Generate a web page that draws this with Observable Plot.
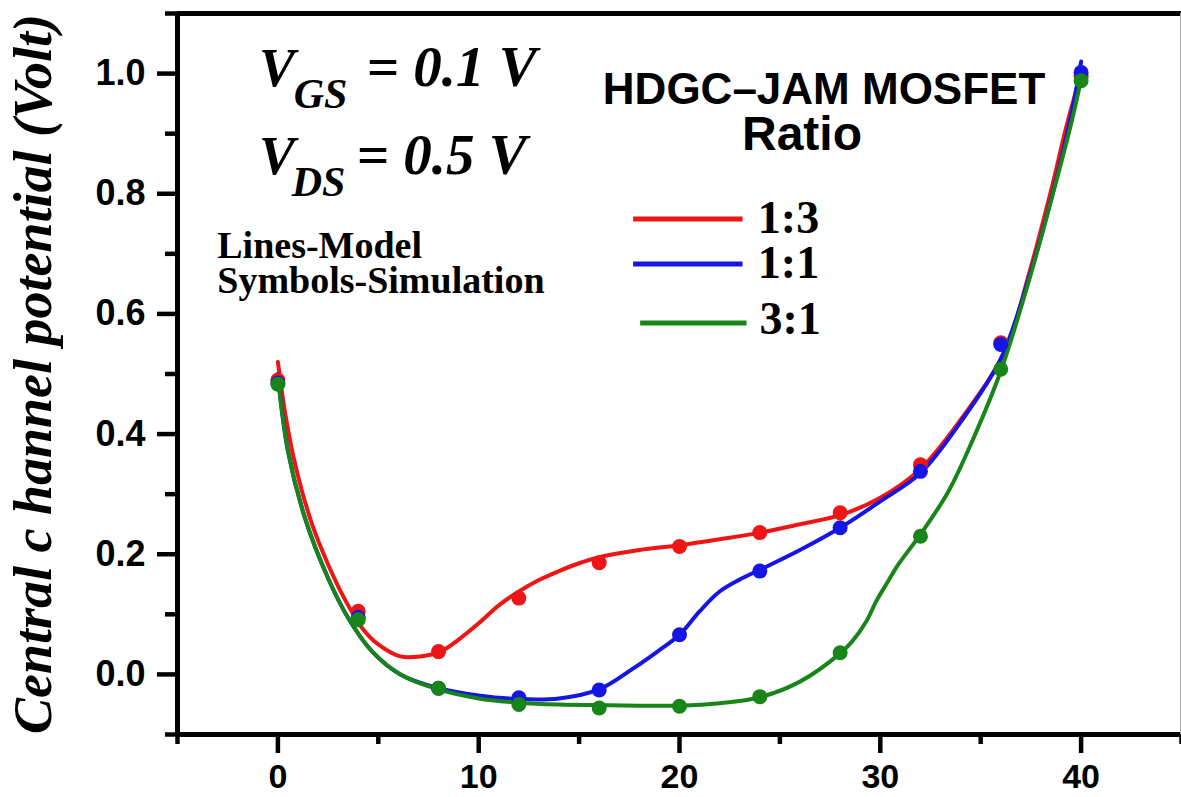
<!DOCTYPE html>
<html><head><meta charset="utf-8">
<script src="https://cdn.jsdelivr.net/npm/d3@7"></script>
<script src="https://cdn.jsdelivr.net/npm/@observablehq/plot@0.6"></script>
<style>body{margin:0;background:#fff;overflow:hidden} svg{display:block}</style>
</head><body><div id="chart"></div>
<script>
// ---- data ----
const seriesNames = ["1:3", "1:1", "3:1"];

// simulation symbols
const simX   = [0, 4, 8, 12, 16, 20, 24, 28, 32, 36, 40];
const sim13  = [0.49, 0.105, 0.038, 0.127, 0.186, 0.213, 0.236, 0.269, 0.349, 0.552, 0.995];
const sim11  = [0.485, 0.095, -0.023, -0.039, -0.026, 0.066, 0.172, 0.244, 0.338, 0.549, 1.002];
const sim31  = [0.483, 0.091, -0.023, -0.05, -0.056, -0.053, -0.037, 0.036, 0.23, 0.508, 0.988];

// model lines
const model13X = [0, 0.4, 0.9, 1.7, 2.5, 3.3, 4.2, 5, 6.1, 7.1, 8.1, 9, 10, 11, 12, 13, 14, 15, 16, 18, 20, 22, 24, 26, 28, 30, 32, 34.2, 36.2, 37.4, 38.5, 39.3, 40];
const model13Y = [0.52, 0.427, 0.344, 0.25, 0.183, 0.127, 0.077, 0.05, 0.03, 0.03, 0.038, 0.058, 0.085, 0.115, 0.138, 0.157, 0.172, 0.185, 0.195, 0.207, 0.215, 0.225, 0.236, 0.25, 0.265, 0.294, 0.342, 0.433, 0.538, 0.666, 0.805, 0.916, 1.0];
const model11X = [0, 0.5, 1.35, 2.5, 3.5, 4.7, 6.1, 8, 10, 12, 14, 16, 17.7, 18.9, 20, 21, 22, 23, 24, 26, 28, 30, 32, 34, 36, 37.4, 38.5, 39.5, 40];
const model11Y = [0.50, 0.372, 0.26, 0.16, 0.094, 0.038, 0.0, -0.023, -0.035, -0.041, -0.04, -0.025, 0.01, 0.038, 0.066, 0.105, 0.138, 0.158, 0.174, 0.207, 0.244, 0.288, 0.335, 0.42, 0.525, 0.66, 0.79, 0.93, 1.02];
const model31X = [0, 0.5, 1.35, 2.5, 3.5, 4.7, 6.1, 8, 10, 12, 14, 16, 18, 20, 22, 24, 26, 28, 28.6, 29.3, 29.8, 30.3, 30.9, 32, 33.4, 34.6, 36, 37.4, 38.5, 39.5, 40];
const model31Y = [0.494, 0.372, 0.26, 0.16, 0.094, 0.038, 0.0, -0.025, -0.04, -0.047, -0.05, -0.051, -0.052, -0.052, -0.048, -0.038, -0.012, 0.035, 0.055, 0.088, 0.122, 0.15, 0.183, 0.233, 0.305, 0.39, 0.505, 0.655, 0.788, 0.916, 0.99];

// ticks
const majorX = [0, 10, 20, 30, 40];
const minorX = [-5, 5, 15, 25, 35, 45];
const majorY = [0, 0.2, 0.4, 0.6, 0.8, 1.0];
const minorY = [-0.1, 0.1, 0.3, 0.5, 0.7, 0.9, 1.1];
const xDomain = [-5, 45];
const yDomain = [-0.1, 1.1];

// ---- styling ----
const colors = ["#f01515", "#1515e6", "#178517"];
const serif = "'Liberation Serif','Times New Roman',serif";
const sans = "'Liberation Sans',Arial,sans-serif";

const simY = [sim13, sim11, sim31];
const modelX = [model13X, model11X, model31X];
const modelY = [model13Y, model11Y, model31Y];

const lineMarks = seriesNames.map((name, s) =>
  Plot.line(modelX[s].map((x, i) => ({x, y: modelY[s][i]})), {
    x: "x", y: "y", stroke: colors[s], strokeWidth: 4, curve: "catmull-rom"
  })
);
const dotMarks = seriesNames.map((name, s) =>
  Plot.dot(simX.map((x, i) => ({x, y: simY[s][i]})), {
    x: "x", y: "y", r: 7.5, fill: colors[s], stroke: "none"
  })
);

// legend (line swatches + labels)
const legX1 = [17.69, 17.69, 18.04], legX2 = [23.14, 23.14, 23.34], legY = [0.758, 0.683, 0.585];
const legendMarks = seriesNames.map((name, s) =>
  Plot.link([name], {x1: legX1[s], x2: legX2[s], y1: legY[s], y2: legY[s], stroke: colors[s], strokeWidth: 5})
);
const legendText = [
  Plot.text([seriesNames[0] + "\n" + seriesNames[1]], {x: 23.9, y: 0.66, text: d => d, textAnchor: "start",
    lineAnchor: "bottom", lineHeight: 0.98, fontFamily: serif, fontWeight: "bold", fontSize: 46, fill: "black"}),
  Plot.text([seriesNames[2]], {x: 23.98, y: 0.567, text: d => d, textAnchor: "start",
    lineAnchor: "bottom", fontFamily: serif, fontWeight: "bold", fontSize: 46, fill: "black"})
];

const ann = (t, x, y, size, opts = {}) => Plot.text([t], Object.assign({
  x, y, text: d => d, textAnchor: "start", lineAnchor: "bottom", fontSize: size,
  fontFamily: serif, fontWeight: "bold", fill: "black"
}, opts));

const chart = Plot.plot({
  width: 1181, height: 797,
  marginLeft: 177, marginRight: 0, marginTop: 13, marginBottom: 63,
  x: {domain: xDomain},
  y: {domain: yDomain},
  style: {background: "white", color: "black", overflow: "visible"},
  marks: [
    Plot.axisY({ticks: majorY, tickSize: 20, tickPadding: 12, strokeWidth: 4.5, fontSize: 36,
      fontFamily: sans, fontWeight: "bold", label: null, tickFormat: d3.format(".1f")}),
    Plot.axisY({ticks: minorY, tickSize: 12, strokeWidth: 4.5, tickFormat: () => "", label: null}),
    Plot.axisX({ticks: majorX, tickSize: 19, tickPadding: 10, strokeWidth: 4.5, fontSize: 34,
      fontFamily: sans, fontWeight: "bold", label: null}),
    Plot.axisX({ticks: minorX, tickSize: 10, strokeWidth: 4.5, tickFormat: () => "", label: null}),
    // plot box
    Plot.ruleY([yDomain[1]], {stroke: "black", strokeWidth: 5, x1: xDomain[0], x2: xDomain[1]}),
    Plot.ruleY([yDomain[0]], {stroke: "black", strokeWidth: 5, x1: xDomain[0], x2: xDomain[1]}),
    Plot.ruleX([xDomain[0]], {stroke: "black", strokeWidth: 5, y1: yDomain[0], y2: yDomain[1]}),
    Plot.ruleX([xDomain[1]], {stroke: "#aaa", strokeWidth: 3, y1: yDomain[0], y2: yDomain[1]}),
    ...lineMarks,
    ...dotMarks,
    ...legendMarks,
    ...legendText,
    // annotations
    ann("V", -0.94, 0.98, 54, {fontStyle: "italic"}),
    ann("GS", 0.79, 0.943, 42, {fontStyle: "italic"}),
    ann("= 0.1 V", 4.41, 0.98, 57, {fontStyle: "italic"}),
    ann("V", -0.94, 0.833, 54, {fontStyle: "italic"}),
    ann("DS", 0.69, 0.797, 42, {fontStyle: "italic"}),
    ann("= 0.5 V", 3.91, 0.833, 57, {fontStyle: "italic"}),
    ann("Lines-Model\nSymbols-Simulation", -3.02, 0.635, 38, {lineHeight: 0.92}),
    ann("HDGC\u2013JAM MOSFET", 27.2, 0.95, 44, {fontFamily: sans, textAnchor: "middle"}),
    ann("Ratio", 26.1, 0.872, 48, {fontFamily: sans, textAnchor: "middle"}),
    // y axis title
    Plot.text(["Central c hannel potential (Volt)"], {frameAnchor: "left", text: d => d, rotate: -90,
      dx: -144, lineAnchor: "middle", textAnchor: "middle", fontSize: 54, fontFamily: serif,
      fontStyle: "italic", fontWeight: "bold", fill: "black"})
  ]
});
document.getElementById("chart").appendChild(chart);
</script>
</body></html>
